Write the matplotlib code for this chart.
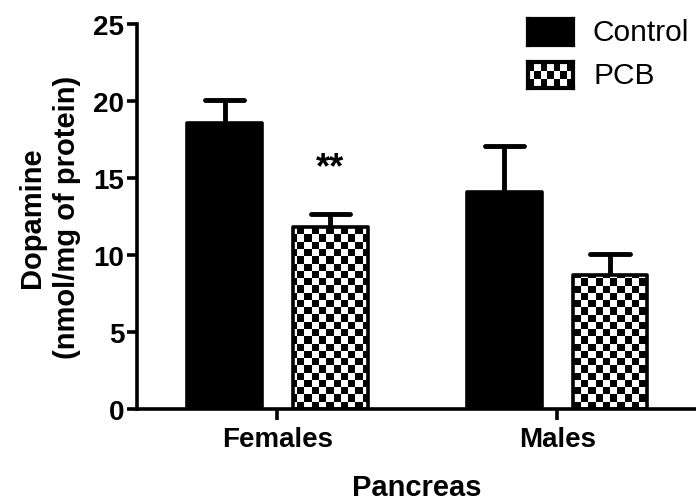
import numpy as np
import matplotlib
matplotlib.use('Agg')
import matplotlib.pyplot as plt

plt.rcParams['font.family'] = ['Liberation Sans', 'DejaVu Sans']

# dopamine in pancreas, mean +/- SEM
groups = ['Females', 'Males']
control_mean = [18.6, 14.1]
control_sem = [1.45, 2.95]
pcb_mean = [11.8, 8.7]
pcb_sem = [0.85, 1.35]
sig_label = '**'
sig_group = 0
sig_y = 15.65

BAR_W = 0.268
OFFSET = 0.189
CAP_HALF = 0.07
LW = 2.6


def checker(ny, nx):
    yy, xx = np.mgrid[0:ny, 0:nx]
    return ((xx + yy) % 2).astype(float)


def upper_err(ax, xpos, mean, sem):
    mean = np.asarray(mean)
    sem = np.asarray(sem)
    ax.errorbar(xpos, mean, yerr=[np.zeros_like(sem), sem], fmt='none',
                ecolor='black', elinewidth=3.5, capsize=0, zorder=1)
    caps = ax.hlines(mean + sem, xpos - CAP_HALF, xpos + CAP_HALF,
                     colors='black', linewidth=3.5, zorder=1)
    caps.set_capstyle('round')


fig = plt.figure(figsize=(6.96, 5.02), dpi=100)
ax = fig.add_axes([137 / 696, 92 / 502, 560 / 696, 385 / 502])

x = np.arange(len(groups))
xlim = (-0.502, 1.5)
ylim = (0, 25)

# error bars (upper only), drawn under the bars
upper_err(ax, x - OFFSET, control_mean, control_sem)
upper_err(ax, x + OFFSET, pcb_mean, pcb_sem)

ax.bar(x - OFFSET, control_mean, BAR_W, color='black', edgecolor='black',
       linewidth=LW, joinstyle='round', zorder=3)
pcb_bars = ax.bar(x + OFFSET, pcb_mean, BAR_W, facecolor='none',
                  edgecolor='black', linewidth=LW, joinstyle='round', zorder=3)

# checkerboard fill clipped to each PCB bar
board = checker(53, 77)
for b in pcb_bars:
    im = ax.imshow(board, cmap='gray', vmin=0, vmax=1, interpolation='nearest',
                   extent=(xlim[0], xlim[1], ylim[0], ylim[1]),
                   aspect='auto', origin='lower', zorder=2)
    im.set_clip_path(b)

ax.text(x[sig_group] + OFFSET, sig_y, sig_label, ha='center', va='center',
        fontsize=26, fontweight='bold')

ax.set_xlim(*xlim)
ax.set_ylim(*ylim)
ax.set_yticks([0, 5, 10, 15, 20, 25])
ax.set_xticks(x)
ax.set_xticklabels(groups)

for side in ['top', 'right']:
    ax.spines[side].set_visible(False)
for side in ['left', 'bottom']:
    ax.spines[side].set_linewidth(LW)
ax.tick_params(axis='both', width=LW, labelsize=20, direction='out')
ax.tick_params(axis='y', length=7, pad=2)
ax.tick_params(axis='x', length=8, pad=4)
for lab in ax.get_xticklabels() + ax.get_yticklabels():
    lab.set_fontweight('bold')

ax.set_ylabel('Dopamine\n(nmol/mg of protein)', fontsize=21,
              fontweight='bold', linespacing=1.3)
ax.yaxis.set_label_coords(-0.1, 0.5)
ax.set_xlabel('Pancreas', fontsize=21, fontweight='bold')
ax.xaxis.set_label_coords(0.5, -0.165)

# legend swatches
sw_ctrl = fig.add_axes([528 / 696, 1 - 46 / 502, 45 / 696, 26 / 502])
sw_ctrl.set_facecolor('black')
sw_pcb = fig.add_axes([528 / 696, 1 - 89 / 502, 45 / 696, 26 / 502])
sw_pcb.imshow(checker(3, 7), cmap='gray', vmin=0, vmax=1,
              interpolation='nearest', aspect='auto')
for sw in (sw_ctrl, sw_pcb):
    sw.set_xticks([])
    sw.set_yticks([])
    for s in sw.spines.values():
        s.set_linewidth(3)
        s.set_edgecolor('black')

fig.text(593 / 696, 1 - 33 / 502, 'Control', fontsize=21.5, va='center')
fig.text(593 / 696, 1 - 76 / 502, 'PCB', fontsize=21.5, va='center')

fig.savefig('out.png', dpi=100)
